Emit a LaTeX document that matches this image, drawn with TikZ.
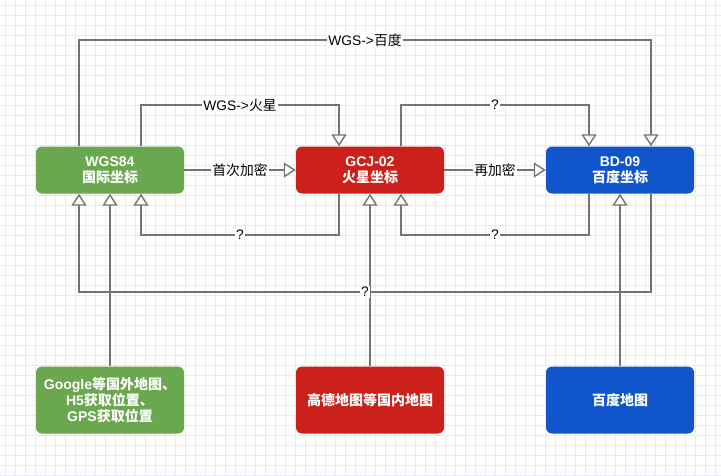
\documentclass[tikz,border=0pt]{standalone}
\usepackage{fontspec}
\setmainfont{Liberation Sans}
\newfontfamily\cjk{Noto Sans CJK SC}
\usetikzlibrary{arrows.meta}
\definecolor{cgreen}{HTML}{6AA84F}
\definecolor{cred}{HTML}{CC211A}
\definecolor{cblue}{HTML}{1155CC}
\definecolor{cline}{HTML}{747474}
\definecolor{cgrid}{HTML}{E8E8F8}
\begin{document}
\begin{tikzpicture}[x=1pt,y=-1pt,
  box/.style={rectangle, rounded corners=6pt, minimum width=148pt, minimum height=47pt,
    text=white, font=\fontsize{14}{16}\selectfont\bfseries, align=center, inner sep=0pt},
  tallbox/.style={box, minimum height=67pt},
  conn/.style={draw=cline, line width=1.4pt, -{Triangle[length=12pt,width=15pt,fill=white]}},
  lbl/.style={fill=white, text=black, inner sep=1.5pt, font=\fontsize{13.8}{16}\selectfont},
  gridline/.style={draw=cgrid, line width=0.8pt}
]
\useasboundingbox (0,0) rectangle (721,475);
\fill[white] (0,0) rectangle (721,475);
\foreach \x in {5,15,...,715} \draw[gridline] (\x,0) -- (\x,475);
\foreach \y in {5,15,...,475} \draw[gridline] (0,\y) -- (721,\y);

% boxes
\node[box, fill=cgreen] (w) at (110,170) {WGS84\\{\cjk 国际坐标}};
\node[box, fill=cred] (g) at (370,170) {GCJ-02\\{\cjk 火星坐标}};
\node[box, fill=cblue] (bd) at (620,170) {BD-09\\{\cjk 百度坐标}};
\node[tallbox, fill=cgreen] (gb) at (110,400) {Google{\cjk 等国外地图、}\\H5{\cjk 获取位置、}\\GPS{\cjk 获取位置}};
\node[tallbox, fill=cred] (gd) at (370,400) {\cjk 高德地图等国内地图};
\node[tallbox, fill=cblue] (bm) at (620,400) {\cjk 百度地图};

% bend points
\coordinate (a1) at (79,40);  \coordinate (a2) at (651,40);
\coordinate (b1) at (141,105); \coordinate (b2) at (339,105);
\coordinate (c1) at (401,105); \coordinate (c2) at (589,105);
\coordinate (d1) at (339,235); \coordinate (d2) at (141,235);
\coordinate (e1) at (589,235); \coordinate (e2) at (401,235);
\coordinate (f1) at (651,292); \coordinate (f2) at (79,292);

% map sources
\draw[conn] (gb.north) -- (w.south);
\draw[conn] (gd.north) -- (g.south);
\draw[conn] (bm.north) -- (bd.south);

% conversions
\draw[conn] ([xshift=-31pt]w.north) -- (a1) -- node[lbl]{WGS->{\cjk 百度}} (a2) -- ([xshift=31pt]bd.north);
\draw[conn] ([xshift=31pt]w.north) -- (b1) -- node[lbl]{WGS->{\cjk 火星}} (b2) -- ([xshift=-31pt]g.north);
\draw[conn] (w.east) -- node[lbl]{\cjk 首次加密} (g.west);
\draw[conn] ([xshift=31pt]g.north) -- (c1) -- node[lbl]{?} (c2) -- ([xshift=-31pt]bd.north);
\draw[conn] (g.east) -- node[lbl]{\cjk 再加密} (bd.west);
\draw[conn] ([xshift=-31pt]g.south) -- (d1) -- node[lbl]{?} (d2) -- ([xshift=31pt]w.south);
\draw[conn] ([xshift=-31pt]bd.south) -- (e1) -- node[lbl]{?} (e2) -- ([xshift=31pt]g.south);
\draw[conn] ([xshift=31pt]bd.south) -- (f1) -- node[lbl]{?} (f2) -- ([xshift=-31pt]w.south);
\end{tikzpicture}
\end{document}
